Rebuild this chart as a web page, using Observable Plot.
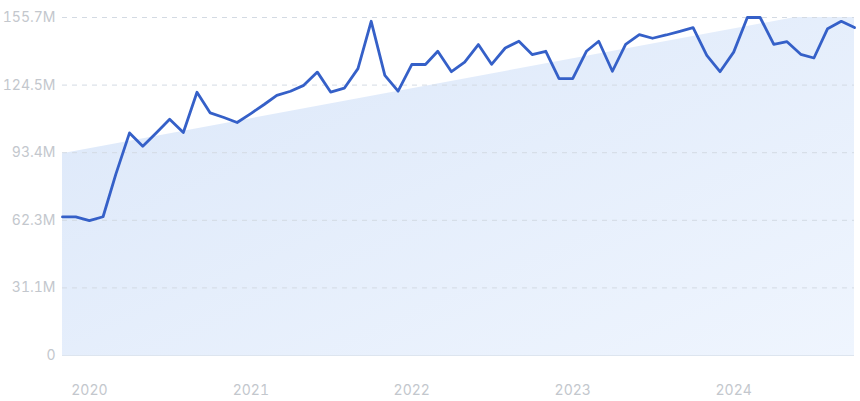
<!DOCTYPE html>
<html>
<head>
<meta charset="utf-8">
<script src="https://cdn.jsdelivr.net/npm/d3@7"></script>
<script src="https://cdn.jsdelivr.net/npm/@observablehq/plot@0.6"></script>
<style>
  html, body { margin: 0; padding: 0; background: #ffffff; }
  #chart { width: 860px; height: 401px; }
  svg { display: block; }
</style>
</head>
<body>
<div id="chart"></div>
<script>
// Monthly series, Nov 2019 – Oct 2024 (values in millions)
const startMonth = "2019-11-01";
const endMonth = "2024-10-01";
const values = [
  63.8, 63.8, 62.1, 63.9, 83.5, 102.5, 96.4, 102.6, 108.8, 102.7,
  121.2, 111.7, 109.6, 107.3, 111.4, 115.7, 119.8, 121.7, 124.4, 130.5,
  121.3, 123.1, 132.1, 153.9, 129.0, 121.7, 134.0, 134.0, 140.1, 130.7,
  135.1, 143.2, 134.1, 141.6, 144.7, 138.6, 140.1, 127.5, 127.5, 140.1,
  144.7, 130.9, 143.3, 147.8, 146.1, 147.6, 149.3, 151.0, 138.2, 130.7,
  139.7, 155.65, 155.65, 143.3, 144.5, 138.7, 137.0, 150.5, 153.9, 151.0
];
// Trend band (start and end values, millions)
const trendDates = [startMonth, endMonth];
const trendValues = [92.9, 160.7];

// Axis ticks
const yTicks = [0, 31.13, 62.26, 93.39, 124.52, 155.65];
const yTickLabels = ["0", "31.1M", "62.3M", "93.4M", "124.5M", "155.7M"];
const xTickDates = ["2020-01-01", "2021-01-01", "2022-01-01", "2023-01-01", "2024-01-01"];
const xTickLabels = ["2020", "2021", "2022", "2023", "2024"];

const months = d3.utcMonth.range(new Date(startMonth), d3.utcMonth.offset(new Date(endMonth), 1));
const data = months.map((d, i) => ({date: d, value: values[i]}));
const trend = trendDates.map((d, i) => ({date: new Date(d), value: trendValues[i]}));
const xTicks = xTickDates.map(d => new Date(d));

const NS = "http://www.w3.org/2000/svg";
function gradientDefs() {
  const defs = document.createElementNS(NS, "defs");
  const g = document.createElementNS(NS, "linearGradient");
  g.setAttribute("id", "trendGrad");
  g.setAttribute("x1", "0"); g.setAttribute("y1", "0");
  g.setAttribute("x2", "1"); g.setAttribute("y2", "1");
  const stops = [["0%", "#dbe7f9"], ["100%", "#eff5fe"]];
  for (const [o, c] of stops) {
    const s = document.createElementNS(NS, "stop");
    s.setAttribute("offset", o);
    s.setAttribute("stop-color", c);
    g.appendChild(s);
  }
  defs.appendChild(g);
  return defs;
}

const labelColor = "#c3c7cd";

const chart = Plot.plot({
  width: 860,
  height: 401,
  marginLeft: 62,
  marginRight: 6,
  marginTop: 17,
  marginBottom: 46,
  style: {fontFamily: "Inter, 'Noto Sans', sans-serif", fontSize: "14px", background: "#ffffff"},
  x: {type: "utc", domain: [new Date(startMonth), new Date(endMonth)], label: null},
  y: {domain: [0, 155.65], label: null},
  marks: [
    gradientDefs,
    Plot.areaY(trend, {x: "date", y: "value", fill: "url(#trendGrad)", clip: true}),
    Plot.gridY(yTicks.slice(1), {stroke: "#d3dae3", strokeOpacity: 1, strokeDasharray: "5,5", strokeWidth: 1}),
    Plot.ruleY([0], {stroke: "#dde5ef", strokeWidth: 1}),
    Plot.axisY(yTicks, {
      tickSize: 0, tickPadding: 7, fontSize: 14, fill: labelColor, label: null,
      tickFormat: (d, i) => yTickLabels[i]
    }),
    Plot.axisX(xTicks, {
      tickSize: 0, tickPadding: 30, fontSize: 14, fill: labelColor, label: null,
      tickFormat: (d, i) => xTickLabels[i]
    }),
    Plot.lineY(data, {x: "date", y: "value", stroke: "#3560c8", strokeWidth: 2.8, strokeLinejoin: "round", strokeLinecap: "round"})
  ]
});
document.getElementById("chart").appendChild(chart);
</script>
</body>
</html>
